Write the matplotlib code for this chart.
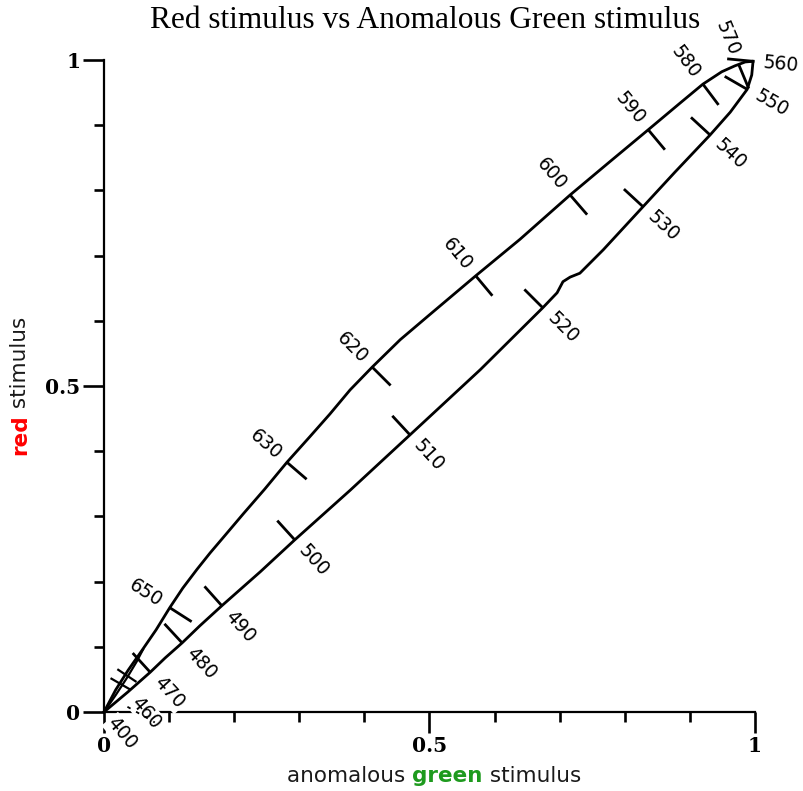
import numpy as np
import matplotlib.pyplot as plt
from matplotlib.ticker import MultipleLocator

# long-wavelength branch (700 nm at the origin up to the tip)
upper_g = [0.000, 0.018, 0.037, 0.058, 0.080, 0.101, 0.121, 0.143, 0.163, 0.186,
           0.214, 0.247, 0.281, 0.316, 0.347, 0.378, 0.412, 0.455, 0.501, 0.571,
           0.639, 0.716, 0.777, 0.836, 0.885, 0.920, 0.949, 0.969, 0.985, 0.997]
upper_r = [0.000, 0.034, 0.064, 0.094, 0.126, 0.160, 0.190, 0.219, 0.244, 0.271,
           0.304, 0.342, 0.383, 0.422, 0.457, 0.494, 0.529, 0.571, 0.610, 0.669,
           0.725, 0.793, 0.844, 0.893, 0.934, 0.963, 0.982, 0.991, 0.997, 0.998]

# thin inner strand near the origin
inner_g = [0.000, 0.018, 0.035, 0.050, 0.060]
inner_r = [0.000, 0.026, 0.052, 0.077, 0.096]

# short-wavelength branch (400 nm at the origin up to the tip)
lower_g = [0.000, 0.037, 0.071, 0.094, 0.120, 0.147, 0.181, 0.240, 0.293, 0.378,
           0.470, 0.578, 0.674, 0.696, 0.705, 0.716, 0.731, 0.767, 0.828, 0.877,
           0.931, 0.962, 0.988, 0.995, 0.997]
lower_r = [0.000, 0.031, 0.061, 0.083, 0.106, 0.132, 0.163, 0.215, 0.264, 0.340,
           0.425, 0.525, 0.620, 0.643, 0.660, 0.667, 0.673, 0.709, 0.775, 0.828,
           0.885, 0.920, 0.955, 0.977, 0.998]

# wavelength marks on each branch
upper_nm = [650, 630, 620, 610, 600, 590, 580, 570]
upper_tg = [0.101, 0.281, 0.412, 0.571, 0.716, 0.836, 0.920, 0.975]
upper_tr = [0.160, 0.383, 0.529, 0.669, 0.793, 0.893, 0.963, 0.993]

lower_nm = [560, 550, 540, 530, 520, 510, 500, 490, 480, 470, 460, 400]
lower_tg = [0.997, 0.988, 0.931, 0.828, 0.674, 0.470, 0.293, 0.181, 0.120, 0.071, 0.037, 0.000]
lower_tr = [0.998, 0.955, 0.885, 0.775, 0.620, 0.425, 0.264, 0.163, 0.106, 0.061, 0.031, 0.000]
no_tick = [460, 400]

# unlabelled marks crossing the long-wavelength end
cross_nm = [660, 670]
cross_g = [0.032, 0.022]
cross_r = [0.058, 0.045]

LW = 2.0
TICK_PX = 26
LABEL_PX = 28

fig = plt.figure(figsize=(8.04, 7.91), dpi=100)
ax = fig.add_axes([104 / 804, 1 - 712 / 791, 651 / 804, 652 / 791])
ax.set_xlim(0, 1)
ax.set_ylim(0, 1)

for s in ['top', 'right']:
    ax.spines[s].set_visible(False)
for s in ['left', 'bottom']:
    ax.spines[s].set_linewidth(1.6)

ax.set_xticks([0, 0.5, 1], labels=['0', '0.5', '1'])
ax.set_yticks([0, 0.5, 1], labels=['0', '0.5', '1'])
ax.xaxis.set_minor_locator(MultipleLocator(0.1))
ax.yaxis.set_minor_locator(MultipleLocator(0.1))
ax.tick_params(which='major', length=15, width=1.9, direction='out', pad=2)
ax.tick_params(which='minor', length=7.5, width=1.9, direction='out')
for lab in ax.get_xticklabels() + ax.get_yticklabels():
    lab.set_fontfamily('DejaVu Serif')
    lab.set_fontsize(14.5)
    lab.set_fontweight('bold')

ax.plot(upper_g, upper_r, color='black', lw=LW, solid_joinstyle='round', clip_on=False)
ax.plot(lower_g, lower_r, color='black', lw=LW, solid_joinstyle='round', clip_on=False)
ax.plot(inner_g, inner_r, color='black', lw=1.6, clip_on=False)

fig.canvas.draw()
to_px = ax.transData.transform
to_data = ax.transData.inverted().transform


def branch_dir(pts, p):
    # local direction of the branch from the nearest vertex
    d = np.hypot(*(pts - p).T)
    i = int(np.argmin(d))
    i0, i1 = max(i - 1, 0), min(i + 1, len(pts) - 1)
    t = pts[i1] - pts[i0]
    return t / np.hypot(*t)


def mark_branch(curve_g, curve_r, nms, tg, tr, inward_sign):
    pts = to_px(np.column_stack([curve_g, curve_r]))
    for nm, g, r in zip(nms, tg, tr):
        p = to_px((g, r))
        t = branch_dir(pts, p)
        n_in = inward_sign * np.array([t[1], -t[0]])
        if nm not in no_tick:
            q = to_data(p + n_in * TICK_PX)
            ax.plot([g, q[0]], [r, q[1]], color='black', lw=LW,
                    solid_capstyle='butt', clip_on=False)
        lp = to_data(p - n_in * LABEL_PX)
        # numbers read along the down-right normal
        rot = np.degrees(np.arctan2(-t[0], t[1]))
        ax.text(lp[0], lp[1], str(nm), rotation=rot, rotation_mode='anchor',
                ha='center', va='center', fontsize=13.5, family='DejaVu Sans',
                zorder=4, clip_on=False,
                bbox=dict(facecolor='white', edgecolor='none', pad=1.0)
                if nm < 480 else None)


mark_branch(upper_g, upper_r, upper_nm, upper_tg, upper_tr, 1)
mark_branch(lower_g, lower_r, lower_nm, lower_tg, lower_tr, -1)

upts = to_px(np.column_stack([upper_g, upper_r]))
for g, r in zip(cross_g, cross_r):
    p = to_px((g, r))
    t = branch_dir(upts, p)
    n_in = np.array([t[1], -t[0]])
    a, b = to_data(p - n_in * 9), to_data(p + n_in * 14)
    ax.plot([a[0], b[0]], [a[1], b[1]], color='black', lw=1.6,
            solid_capstyle='butt', clip_on=False)

# faint dashes left below the 460 label
ax.plot([0.036, 0.078], [0.008, -0.016], color='black', lw=1.3,
        linestyle=(0, (2, 3.5)), clip_on=False, zorder=5)

fig.text(425 / 804, 1 - 20 / 791, 'Red stimulus vs Anomalous Green stimulus',
         ha='center', va='center', family='Liberation Serif', fontsize=22.6)


def colored_label(pieces, cx, cy, vertical=False):
    renderer = fig.canvas.get_renderer()
    texts = []
    for txt, col, wt in pieces:
        t = fig.text(0, 0, txt, color=col, fontweight=wt, family='DejaVu Sans',
                     fontsize=15.5, rotation=90 if vertical else 0,
                     ha='left', va='bottom')
        texts.append(t)
    sizes = []
    for t in texts:
        bb = t.get_window_extent(renderer)
        sizes.append(bb.height if vertical else bb.width)
    total = sum(sizes)
    W, H = fig.bbox.width, fig.bbox.height
    pos = -total / 2
    for t, s in zip(texts, sizes):
        if vertical:
            t.set_position((cx / W, (cy + pos) / H))
            t.set_va('bottom')
            t.set_ha('center')
        else:
            t.set_position(((cx + pos) / W, cy / H))
            t.set_va('center')
        pos += s


colored_label([('anomalous ', '#1a1a1a', 'normal'), ('green', '#1e9a1e', 'bold'),
               (' stimulus', '#1a1a1a', 'normal')], 434, 791 - 776)
colored_label([('red', '#ff0000', 'bold'), (' stimulus', '#1a1a1a', 'normal')],
              20, 791 - 386, vertical=True)

fig.savefig('out.png', dpi=100)
